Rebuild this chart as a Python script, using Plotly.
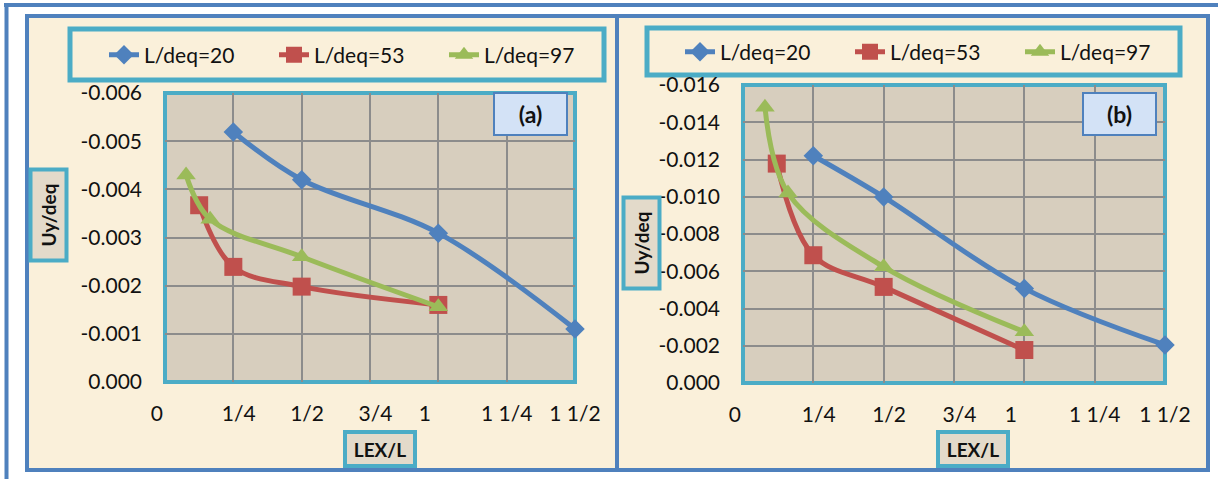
import plotly.graph_objects as go

W, H = 1220, 479

# ---------------- data ----------------
series_names = ["L/deq=20", "L/deq=53", "L/deq=97"]

x_tickvals = [0, 0.25, 0.5, 0.75, 1.0, 1.25, 1.5]
x_ticktext = ["0\u00a0\u00a0\u00a0", "\u00a0\u00a01/4", "\u00a0\u00a01/2", "\u00a0\u00a03/4",
              "1\u00a0\u00a0\u00a0\u00a0\u00a0", "1 1/4", "1 1/2"]

# panel (a)
a_x20 = [0.25, 0.5, 1.0, 1.5]
a_y20 = [-0.00519, -0.0042, -0.00309, -0.0011]
a_x53 = [0.125, 0.25, 0.5, 1.0]
a_y53 = [-0.00367, -0.00239, -0.00198, -0.0016]
a_x97 = [0.077, 0.165, 0.5, 1.0]
a_y97 = [-0.0043, -0.00338, -0.0026, -0.00156]
a_ytickvals = [0, -0.001, -0.002, -0.003, -0.004, -0.005, -0.006]
a_yticktext = ["0.000", "-0.001", "-0.002", "-0.003", "-0.004", "-0.005", "-0.006"]

# panel (b)
b_x20 = [0.25, 0.5, 1.0, 1.5]
b_y20 = [-0.0122, -0.00999, -0.00508, -0.00204]
b_x53 = [0.12, 0.25, 0.5, 1.0]
b_y53 = [-0.01178, -0.00686, -0.00516, -0.00177]
b_x97 = [0.078, 0.16, 0.5, 1.0]
b_y97 = [-0.0148, -0.0102, -0.00624, -0.00275]
b_ytickvals = [0, -0.002, -0.004, -0.006, -0.008, -0.010, -0.012, -0.014, -0.016]
b_yticktext = ["0.000", "-0.002", "-0.004", "-0.006", "-0.008", "-0.010", "-0.012", "-0.014", "-0.016"]

# ---------------- styles ----------------
colors = ["#4F81BD", "#C0504D", "#9BBB59"]
symbols = ["diamond", "square", "triangle-up"]
msizes = [15, 18, 17]
FONT = "Lato"
CREAM = "#FAF0DA"
PLOTBG = "#D7CEBE"
TEAL = "#4BACC6"
FRAME = "#4F81BD"
TXT = "#111111"


def px(x):
    return x / W


def py(y):
    return 1 - y / H


fig = go.Figure()

panels = [
    ("x", "y", "legend", [(a_x20, a_y20), (a_x53, a_y53), (a_x97, a_y97)]),
    ("x2", "y2", "legend2", [(b_x20, b_y20), (b_x53, b_y53), (b_x97, b_y97)]),
]
for xa, ya, lg, data in panels:
    for i, (xs, ys) in enumerate(data):
        fig.add_trace(go.Scatter(
            x=xs, y=ys, xaxis=xa, yaxis=ya, name=series_names[i], legend=lg,
            mode="lines+markers", cliponaxis=False,
            line=dict(color=colors[i], width=5, shape="spline", smoothing=1.0),
            marker=dict(symbol=symbols[i], size=msizes[i], color=colors[i]),
        ))

axis_common = dict(showgrid=True, gridcolor="#8C8C8C", gridwidth=1.5, zeroline=False,
                   showline=False, ticks="", automargin=False,
                   tickfont=dict(family=FONT, size=21, color=TXT))

fig.update_layout(
    width=W, height=H, margin=dict(l=0, r=0, t=0, b=0, pad=0, autoexpand=False),
    paper_bgcolor="white", plot_bgcolor=PLOTBG,
    font=dict(family=FONT, size=20, color=TXT),
    xaxis=dict(domain=[px(165), px(575)], range=[0, 1.5], tickvals=x_tickvals, ticktext=x_ticktext,
               anchor="y", ticklabelstandoff=17, **axis_common),
    yaxis=dict(domain=[py(382), py(93)], range=[0, -0.006], tickvals=a_ytickvals, ticktext=a_yticktext,
               anchor="x", ticklabelstandoff=22, **axis_common),
    xaxis2=dict(domain=[px(743), px(1165)], range=[0, 1.5], tickvals=x_tickvals, ticktext=x_ticktext,
                anchor="y2", ticklabelstandoff=17, **axis_common),
    yaxis2=dict(domain=[py(383), py(85)], range=[0, -0.016], tickvals=b_ytickvals, ticktext=b_yticktext,
                anchor="x2", ticklabelstandoff=22, **axis_common),
    legend=dict(orientation="h", x=px(104), y=py(55), xanchor="left", yanchor="middle",
                bgcolor="rgba(0,0,0,0)", borderwidth=0, font=dict(family=FONT, size=21, color=TXT),
                entrywidth=125, entrywidthmode="pixels"),
    legend2=dict(orientation="h", x=px(680), y=py(52), xanchor="left", yanchor="middle",
                 bgcolor="rgba(0,0,0,0)", borderwidth=0, font=dict(family=FONT, size=21, color=TXT),
                 entrywidth=125, entrywidthmode="pixels"),
)

shapes = []
# outer frame lines
shapes.append(dict(type="line", xref="paper", yref="paper", x0=px(4), x1=px(1218), y0=py(5), y1=py(5),
                   line=dict(color=FRAME, width=4), layer="below"))
shapes.append(dict(type="line", xref="paper", yref="paper", x0=px(6.5), x1=px(6.5), y0=py(3), y1=py(479),
                   line=dict(color=FRAME, width=4), layer="below"))
# panels
for x0, x1 in [(27, 617), (617, 1208)]:
    shapes.append(dict(type="rect", xref="paper", yref="paper", x0=px(x0), x1=px(x1), y0=py(16), y1=py(470),
                       fillcolor=CREAM, line=dict(color=FRAME, width=4), layer="below"))
# legend boxes
for x0, x1, y0, y1 in [(70, 604, 29, 80), (647, 1180, 28, 75)]:
    shapes.append(dict(type="rect", xref="paper", yref="paper", x0=px(x0), x1=px(x1), y0=py(y0), y1=py(y1),
                       fillcolor=CREAM, line=dict(color=TEAL, width=5), layer="below"))
# plot area fills
for xa, ya in [("x", "y"), ("x2", "y2")]:
    shapes.append(dict(type="rect", xref=xa + " domain", yref=ya + " domain", x0=0, x1=1, y0=0, y1=1,
                       fillcolor=PLOTBG, line=dict(width=0), layer="below"))
fig.update_layout(shapes=shapes)

# plot area borders
for xa, ya in [("x", "y"), ("x2", "y2")]:
    fig.add_shape(type="rect", xref=xa + " domain", yref=ya + " domain", x0=0, x1=1, y0=0, y1=1,
                  fillcolor="rgba(0,0,0,0)", line=dict(color=TEAL, width=4), layer="below")

# annotations
ann = []
for cx, cy in [(49, 215.5), (641, 243.5)]:
    ann.append(dict(text="<b>Uy/deq</b>", xref="paper", yref="paper", x=px(cx), y=py(cy),
                    xanchor="center", yanchor="middle", showarrow=False, textangle=-90,
                    font=dict(family=FONT, size=19, color=TXT),
                    bgcolor="#E3DACA", bordercolor=TEAL, borderwidth=4, borderpad=2,
                    width=83, height=28))
for cx, cy in [(380, 449), (972.5, 449)]:
    ann.append(dict(text="<b>LEX/L</b>", xref="paper", yref="paper", x=px(cx), y=py(cy),
                    xanchor="center", yanchor="middle", showarrow=False,
                    font=dict(family=FONT, size=19, color=TXT),
                    bgcolor="#E3DACA", bordercolor=TEAL, borderwidth=4, borderpad=2,
                    width=62, height=26))
for txt, cx, cy in [("(a)", 530.5, 114), ("(b)", 1119.5, 113.5)]:
    ann.append(dict(text="<b>" + txt + "</b>", xref="paper", yref="paper", x=px(cx), y=py(cy),
                    xanchor="center", yanchor="middle", showarrow=False,
                    font=dict(family=FONT, size=23, color=TXT),
                    bgcolor="#D3E2F6", bordercolor=FRAME, borderwidth=2, borderpad=0,
                    width=71, height=40))
fig.update_layout(annotations=ann)

fig.write_html("out.html", config={"displayModeBar": False},
               post_script="document.body.style.margin='0px';document.body.style.overflow='hidden';")
